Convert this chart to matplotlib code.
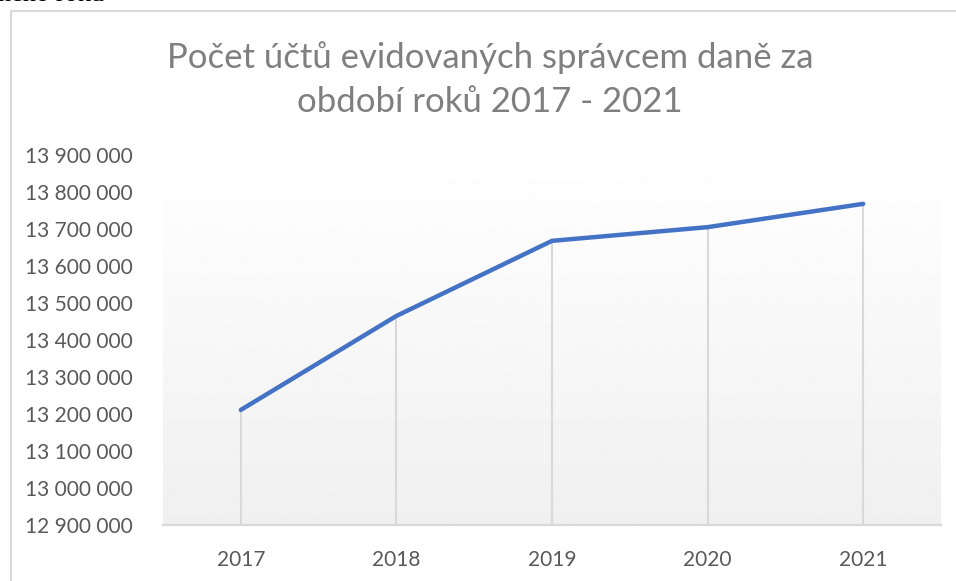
import numpy as np
import matplotlib
matplotlib.use('Agg')
import matplotlib.pyplot as plt
from matplotlib.lines import Line2D
from matplotlib.ticker import FuncFormatter

# Data
years = ['2017', '2018', '2019', '2020', '2021']
accounts = [13211000, 13465000, 13668000, 13705000, 13768000]
y_ticks = [12900000, 13000000, 13100000, 13200000, 13300000, 13400000,
           13500000, 13600000, 13700000, 13800000, 13900000]

plt.rcParams['font.family'] = ['Lato', 'DejaVu Sans']

fig = plt.figure(figsize=(9.56, 5.81), dpi=100)
ax = fig.add_axes([163 / 956, 1 - 525 / 581, (941 - 163) / 956, (525 - 155) / 581])

x = np.arange(len(years))

# light vertical gradient in the plot area
grad = np.linspace(1.0, 0.94, 256).reshape(-1, 1)
ax.imshow(grad, cmap='gray', vmin=0, vmax=1, aspect='auto',
          extent=[0, 1, 0, 1], transform=ax.transAxes, zorder=0)

# drop lines from each point to the axis
ax.vlines(x, y_ticks[0], accounts, color='#d9d9d9', lw=1.5, zorder=1)
ax.plot(x, accounts, color='#4472C4', lw=3.2, solid_capstyle='round',
        solid_joinstyle='round', zorder=3)

ax.set_xlim(-0.5, len(years) - 0.5)
ax.set_ylim(y_ticks[0], y_ticks[-1])
ax.set_xticks(x)
ax.set_xticklabels(years)
ax.set_yticks(y_ticks)
ax.yaxis.set_major_formatter(FuncFormatter(lambda v, p: f'{int(v):,}'.replace(',', ' ')))

for s in ['top', 'right', 'left']:
    ax.spines[s].set_visible(False)
ax.spines['bottom'].set_color('#d9d9d9')
ax.spines['bottom'].set_linewidth(1.6)
ax.tick_params(length=0, labelsize=15, colors='#595959')
ax.tick_params(axis='y', pad=22)
ax.tick_params(axis='x', pad=18)

fig.text(490 / 956, 1 - 58 / 581, 'Počet účtů evidovaných správcem daně za',
         ha='center', va='center', fontsize=25, color='#7f7f7f')
fig.text(490 / 956, 1 - 102 / 581, 'období roků 2017 - 2021',
         ha='center', va='center', fontsize=25, color='#7f7f7f')

# chart frame (left and top edge visible) and cropped document text above it
fig.add_artist(Line2D([11 / 956, 11 / 956, 1.0], [0.0, 1 - 11 / 581, 1 - 11 / 581],
                      transform=fig.transFigure, color='#d9d9d9', lw=1.5))
fig.text(-2 / 956, 1 + 5 / 581, 'ného roku', ha='left', va='center',
         fontsize=19, family='Liberation Serif', color='black')

fig.savefig('out.png', dpi=100)
